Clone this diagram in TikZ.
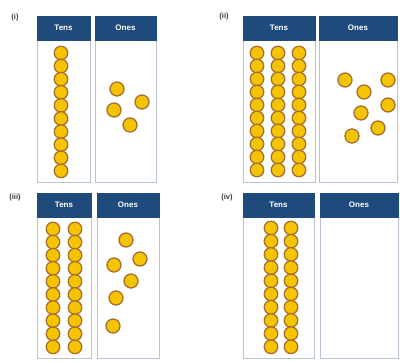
\documentclass[tikz,border=0pt]{standalone}
\usepackage{fontspec}
\setmainfont{Liberation Sans}
\definecolor{hdr}{RGB}{30,74,124}
\definecolor{boxline}{RGB}{184,196,214}
\definecolor{beadfill}{RGB}{244,196,0}
\definecolor{beadline}{RGB}{168,112,48}
\definecolor{lbl}{RGB}{60,60,60}
\tikzset{
  colbox/.style={draw=boxline, line width=0.9pt, fill=white},
  header/.style={fill=hdr, draw=hdr},
  htext/.style={text=white, font=\bfseries\fontsize{8}{9}\selectfont, inner sep=0pt},
  plabel/.style={text=lbl, font=\bfseries\fontsize{7.5}{8}\selectfont, inner sep=0pt},
  bead/.style={fill=beadfill, draw=beadline, line width=1.3pt},
}
\begin{document}
\begin{tikzpicture}[x=1pt,y=-1pt]
\useasboundingbox (0,0) rectangle (400,360);
\fill[white] (0,0) rectangle (400,360);
% ---------- panel boxes ----------
% (i)
\draw[colbox] (37,16) rectangle (90,182);
\draw[colbox] (95,16) rectangle (156,182);
\fill[header] (37,16) rectangle (90,40);
\fill[header] (95,16) rectangle (156,40);
\node[htext] (ti) at (63.5,28) {Tens};
\node[htext] (oi) at (125.5,28) {Ones};
\node[plabel] (li) at (15,18) {(i)};
% (ii)
\draw[colbox] (243,16) rectangle (315,182);
\draw[colbox] (319,16) rectangle (397,182);
\fill[header] (243,16) rectangle (315,40);
\fill[header] (319,16) rectangle (397,40);
\node[htext] (tii) at (279,28) {Tens};
\node[htext] (oii) at (358,28) {Ones};
\node[plabel] (lii) at (224,17) {(ii)};
% (iii)
\draw[colbox] (37,193) rectangle (91,358);
\draw[colbox] (97,193) rectangle (159,358);
\fill[header] (37,193) rectangle (91,217);
\fill[header] (97,193) rectangle (159,217);
\node[htext] (tiii) at (64,205) {Tens};
\node[htext] (oiii) at (128,205) {Ones};
\node[plabel] (liii) at (15,198) {(iii)};
% (iv)
\draw[colbox] (243,193) rectangle (314,358);
\draw[colbox] (320,193) rectangle (398,358);
\fill[header] (243,193) rectangle (314,217);
\fill[header] (320,193) rectangle (398,217);
\node[htext] (tiv) at (278.5,205) {Tens};
\node[htext] (oiv) at (359,205) {Ones};
\node[plabel] (liv) at (227,198) {(iv)};
% ---------- tens rods ----------
\foreach \x in {61} \foreach \k in {0,...,9} \draw[bead] (\x,53+13.1*\k) circle (6.8);
\foreach \x in {257,278,299} \foreach \k in {0,...,9} \draw[bead] (\x,53+13*\k) circle (6.8);
\foreach \x in {53,75} \foreach \k in {0,...,9} \draw[bead] (\x,229+13.1*\k) circle (6.8);
\foreach \x in {271,291} \foreach \k in {0,...,9} \draw[bead] (\x,228+13.2*\k) circle (6.8);
% ---------- ones ----------
\foreach \p in {(117,89),(142,102),(114,110),(130,125)} \draw[bead] \p circle (7);
\foreach \p in {(345,80),(388,80),(364,92),(388,105),(361,113),(378,128),(352,136)} \draw[bead] \p circle (7);
\foreach \p in {(126,240),(140,259),(114,265),(131,281),(116,298),(113,326)} \draw[bead] \p circle (7);
\end{tikzpicture}
\end{document}
